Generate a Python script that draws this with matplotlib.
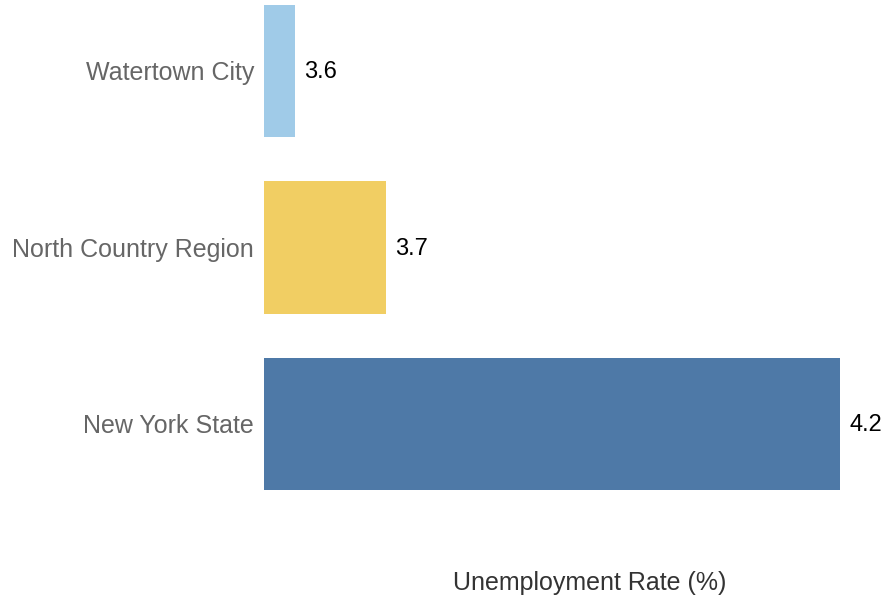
import matplotlib
matplotlib.use("Agg")
import matplotlib.pyplot as plt

categories = ["New York State", "North Country Region", "Watertown City"]
values = [4.2, 3.7, 3.6]
colors = ["#4e79a7", "#f1ce63", "#a0cbe8"]
xlabel = "Unemployment Rate (%)"

W, H = 896, 601
fig = plt.figure(figsize=(W / 100, H / 100), dpi=100)
plt.rcParams['font.family'] = ['Liberation Sans', 'DejaVu Sans']
ax = fig.add_axes([264 / W, 0, 1 - 264 / W, 1])

pos = list(range(len(categories)))
ax.barh(pos, values, height=0.75, color=colors)
ax.set_xlim(3.5656, 3.5656 + 632 / 908)
ax.set_ylim(-1.003, 2.402)
ax.set_yticks(pos)
ax.set_yticklabels(categories, fontsize=18, color="#666666")
ax.tick_params(axis="y", length=0, pad=7.2)
ax.set_xticks([])
for s in ax.spines.values():
    s.set_visible(False)

for p, v in zip(pos, values):
    ax.annotate(f"{v}", xy=(v, p), xytext=(6.5, -1), textcoords="offset points",
                va="center", ha="left", fontsize=17, color="black")

fig.text(590 / W, 1 - 583 / H, xlabel, ha="center", va="center", fontsize=18, color="#333333")

fig.savefig("out.png", dpi=100)
